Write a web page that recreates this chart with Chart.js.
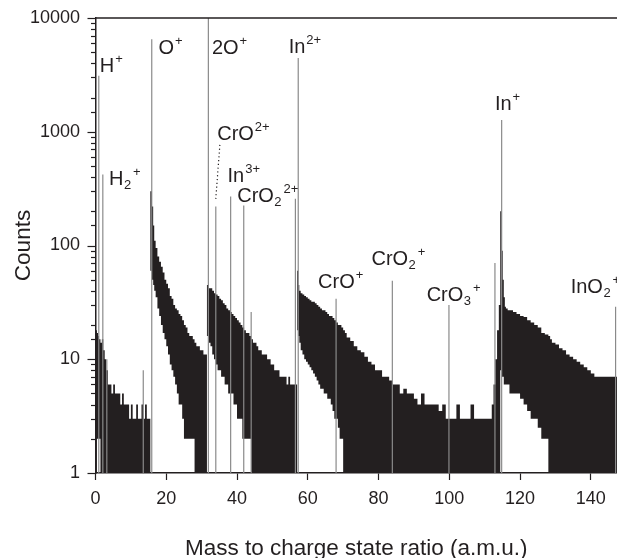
<!DOCTYPE html>
<html>
<head>
<meta charset="utf-8">
<script src="https://cdn.jsdelivr.net/npm/chart.js@4.4.0/dist/chart.umd.min.js"></script>
<style>
  html, body { margin: 0; padding: 0; background: #fff; }
  #wrap { width: 617px; height: 558px; }
</style>
</head>
<body>
<div id="wrap"><canvas id="spectrum" width="617" height="558"></canvas></div>
<script>
var massAmu = [
  0, 0.4, 0.7, 1.0, 1.4, 1.8, 2.2, 2.6, 3.0, 3.5,
  4.0, 4.5, 5.0, 5.5, 6.0, 6.5, 7.0, 7.5, 8.0, 8.5,
  9.0, 9.5, 10.0, 10.5, 11.0, 11.5, 12.0, 12.5, 13.0, 13.5,
  14.0, 14.5, 15.0, 15.5,
  15.95, 16.3, 16.6, 17.0, 17.5, 18.0, 18.5, 19.0, 19.5, 20.0,
  20.5, 21.0, 21.5, 22.0, 22.5, 23.0, 23.5, 24.0, 24.5, 25.0,
  25.5, 26.0, 26.5, 27.0, 27.5, 28.0, 28.5, 29.0, 29.5, 30.0,
  30.5, 31.0, 31.5,
  31.95, 32.5, 33.0, 33.5, 34.0, 34.5, 35.0, 35.5, 36.0, 36.5,
  37.0, 37.5, 38.0, 38.5, 39.0, 39.5, 40.0, 40.5, 41.0, 41.5,
  42.0, 42.5, 43.0, 43.5, 44.0, 44.5, 45.0, 45.5, 46.0, 46.5,
  47.0, 47.5, 48.0, 48.5, 49.0, 49.5, 50.0, 50.5, 51.0, 51.5,
  52.0, 52.5, 53.0, 53.5, 54.0, 54.5, 55.0, 55.5, 56.0, 56.5, 57.0,
  57.3, 57.6, 58.0, 58.5, 59.0, 59.5, 60.0, 60.5, 61.0, 61.5,
  62.0, 62.5, 63.0, 63.5, 64.0, 64.5, 65.0, 65.5, 66.0, 66.5,
  67.0, 67.5, 68.0, 68.5, 69.0, 69.5, 70.0, 70.5, 71.0, 72.0,
  73, 74, 75, 76, 77, 78, 79, 80, 81, 82,
  83, 84, 85, 86, 87, 88, 89, 90, 91, 92,
  93, 94, 95, 96, 97, 98, 99, 100, 101, 102,
  103, 104, 105, 106, 107, 108, 109, 110, 111, 112,
  112.5, 113.0, 113.5, 114.0, 114.4,
  114.8, 115.1, 115.4, 115.7, 116.0, 116.5, 117, 118, 119, 120,
  121, 122, 123, 124, 125, 126, 127, 128, 128.5, 129,
  130, 131, 132, 133, 134, 135, 136, 137, 138, 139,
  140, 141, 142, 143, 144, 145, 146, 147, 147.5
];
// upper edge of the dense count band
var countsHigh = [
  20, 18, 17, 16, 15, 14, 15, 12, 10, 8,
  6, 6, 5, 6, 5, 5, 5, 4, 5, 4,
  4, 4, 3, 4, 3, 3, 4, 3, 3, 4,
  3, 4, 3, 3,
  300, 220, 150, 110, 95, 80, 72, 65, 58, 50,
  46, 42, 36, 34, 30, 28, 27, 25, 24, 22,
  20, 19, 17, 16, 16, 15, 14, 13, 13, 12,
  12, 11, 11,
  45, 42, 42, 40, 38, 37, 36, 34, 33, 31,
  30, 28, 27, 26, 25, 24, 23, 22, 21, 20,
  19, 18, 17, 17, 16, 15, 14, 14, 13, 12,
  12, 11, 11, 11, 10, 10, 9, 9, 8, 8,
  8, 7, 7, 7, 7, 6, 7, 6, 6, 6, 6,
  60, 45, 40, 38, 37, 36, 35, 34, 33, 32,
  32, 31, 30, 29, 28, 27, 27, 26, 25, 24,
  24, 23, 22, 21, 20, 20, 19, 18, 17, 15.5,
  14.5, 13, 12, 11.5, 10.5, 9.5, 9, 8, 8, 7,
  7, 6.5, 6, 6, 5, 5.5, 5, 5, 4.5, 4,
  5, 4, 4, 4, 4, 3.5, 4, 3, 3, 3,
  4, 3, 3, 3, 4, 3, 3, 3, 3, 3,
  4, 6, 10, 18, 30,
  200, 90, 50, 35, 29, 28, 27, 27, 26, 25,
  24, 23.5, 22, 21, 20, 19, 17, 16.5, 16, 15,
  14, 13.5, 12.5, 12, 11, 10.5, 10, 9.5, 9, 8.5,
  8, 7.5, 7, 7, 7, 7, 7, 7, 7
];
// lower edge of the band (white below it)
var countsLow = [
  1, 1, 2, 2, 2, 1, 1, 1, 1, 1,
  1, 1, 1, 1, 1, 1, 1, 1, 1, 1,
  1, 1, 1, 1, 1, 1, 1, 1, 1, 1,
  1, 1, 1, 1,
  60, 50, 45, 40, 35, 28, 24, 20, 17, 15,
  13, 11, 9, 8, 7, 6, 5, 4, 4, 3,
  2, 2, 2, 2, 2, 2, 1, 1, 1, 1,
  1, 1, 1,
  16, 14, 13, 11, 10, 9, 8, 8, 7, 7,
  6, 6, 5, 5, 5, 4, 4, 3, 3, 3,
  2, 2, 2, 2, 2, 1, 1, 1, 1, 1,
  1, 1, 1, 1, 1, 1, 1, 1, 1, 1,
  1, 1, 1, 1, 1, 1, 1, 1, 1, 1, 1,
  18, 16, 14, 12, 11, 10, 9.5, 9, 8.5, 8,
  7.5, 7, 6.5, 6, 5.5, 5.5, 5, 5, 4.5, 4.5,
  4, 3.5, 3, 3, 2.5, 2, 2, 1, 1, 1,
  1, 1, 1, 1, 1, 1, 1, 1, 1, 1,
  1, 1, 1, 1, 1, 1, 1, 1, 1, 1,
  1, 1, 1, 1, 1, 1, 1, 1, 1, 1,
  1, 1, 1, 1, 1, 1, 1, 1, 1, 1,
  1, 1, 1, 1, 1,
  8, 7, 7, 6, 6, 6, 6, 5, 5, 5,
  4.5, 4, 3.5, 3, 3, 2.5, 2, 2, 1, 1,
  1, 1, 1, 1, 1, 1, 1, 1, 1, 1,
  1, 1, 1, 1, 1, 1, 1, 1, 1
];

// single sharp peaks (drawn as thin lines from the baseline)
var peakMass   = [0.93, 2.07, 3.2, 13.5, 15.9, 31.9, 34.0, 38.2, 41.9, 44.0, 56.5, 57.3, 68.0, 83.9, 99.9, 112.9, 114.8, 147.0];
var peakCounts = [3100, 420, 10, 8, 6500, 20000, 220, 270, 225, 26, 257, 4440, 34, 49, 30, 70, 1270, 29];

// tick labels
var massTicks = [0, 20, 40, 60, 80, 100, 120, 140];
var countTicks = [1, 10, 100, 1000, 10000];

// ion labels: text, subscript, superscript, anchor (mass, counts) of the text baseline
var ionLabels = [
  { text: "H", sub: "", sup: "+", mass: 1.2, counts: 3365 },
  { text: "H", sub: "2", sup: "+", mass: 3.8, counts: 341 },
  { text: "O", sub: "", sup: "+", mass: 17.8, counts: 4840 },
  { text: "2O", sub: "", sup: "+", mass: 32.9, counts: 4840 },
  { text: "In", sub: "", sup: "2+", mass: 54.6, counts: 4900 },
  { text: "CrO", sub: "", sup: "2+", mass: 34.4, counts: 850 },
  { text: "In", sub: "", sup: "3+", mass: 37.3, counts: 365 },
  { text: "CrO", sub: "2", sup: "2+", mass: 40.05, counts: 242 },
  { text: "CrO", sub: "", sup: "+", mass: 62.9, counts: 42 },
  { text: "CrO", sub: "2", sup: "+", mass: 78.0, counts: 67.5 },
  { text: "CrO", sub: "3", sup: "+", mass: 93.6, counts: 32.7 },
  { text: "In", sub: "", sup: "+", mass: 112.9, counts: 1560 },
  { text: "InO", sub: "2", sup: "+", mass: 134.3, counts: 38 }
];
// dotted leader from the CrO2+ label down to its peak
var leaderMass = [35.15, 34.0];
var leaderCounts = [767, 257];

var INK = "#231f20";
var FONT = '"Liberation Sans", Arial, Helvetica, sans-serif';
Chart.defaults.font.family = FONT;
Chart.defaults.color = INK;

function isDecade(v) {
  var l = Math.log10(v);
  return Math.abs(l - Math.round(l)) < 1e-9;
}

var peakPoints = [];
peakMass.forEach(function (m, i) {
  peakPoints.push({ x: m, y: 1 }, { x: m, y: peakCounts[i] }, { x: m, y: null });
});

var ionLabelPlugin = {
  id: "ionLabels",
  afterDatasetsDraw: function (chart) {
    var ctx = chart.ctx, x = chart.scales.x, y = chart.scales.y;
    ctx.save();
    ctx.fillStyle = INK;
    ctx.textAlign = "left";
    ctx.textBaseline = "alphabetic";
    ionLabels.forEach(function (l) {
      var px = x.getPixelForValue(l.mass);
      var py = y.getPixelForValue(l.counts);
      ctx.font = "20px " + FONT;
      ctx.fillText(l.text, px, py);
      px += ctx.measureText(l.text).width;
      ctx.font = "13px " + FONT;
      if (l.sub) {
        ctx.fillText(l.sub, px + 0.5, py + 4);
        px += ctx.measureText(l.sub).width + 1.5;
      }
      if (l.sup) ctx.fillText(l.sup, px + 1, py - 9);
    });
    ctx.restore();
  }
};

var frameTicksPlugin = {
  id: "frameTicks",
  afterDraw: function (chart) {
    var ctx = chart.ctx, area = chart.chartArea, y = chart.scales.y;
    ctx.save();
    ctx.strokeStyle = INK;
    ctx.lineWidth = 1.2;
    y.ticks.forEach(function (t) {
      var py = Math.round(y.getPixelForValue(t.value)) + 0.5;
      var len = isDecade(t.value) ? 8 : 4.5;
      ctx.beginPath();
      ctx.moveTo(area.left - len, py);
      ctx.lineTo(area.left, py);
      ctx.stroke();
    });
    ctx.lineWidth = 1.5;
    ctx.beginPath();
    ctx.moveTo(area.left, area.top);
    ctx.lineTo(area.right, area.top);
    ctx.stroke();
    ctx.restore();
  }
};

new Chart("spectrum", {
  type: "line",
  data: {
    datasets: [
      {
        label: "band",
        data: massAmu.map(function (m, i) { return { x: m, y: countsHigh[i] }; }),
        stepped: "after",
        borderWidth: 0,
        pointRadius: 0,
        backgroundColor: INK,
        fill: "+1",
        order: 3
      },
      {
        label: "band base",
        data: massAmu.map(function (m, i) { return { x: m, y: countsLow[i] }; }),
        stepped: "after",
        borderWidth: 0,
        pointRadius: 0,
        fill: false,
        order: 2
      },
      {
        label: "peaks",
        data: peakPoints,
        borderColor: "#8a8a8a",
        borderWidth: 1.2,
        pointRadius: 0,
        spanGaps: false,
        fill: false,
        order: 1
      },
      {
        label: "leader",
        data: leaderMass.map(function (m, i) { return { x: m, y: leaderCounts[i] }; }),
        borderColor: INK,
        borderWidth: 1.2,
        borderDash: [1.2, 2.6],
        pointRadius: 0,
        fill: false,
        order: 0
      }
    ]
  },
  options: {
    responsive: false,
    animation: false,
    events: [],
    layout: { padding: { top: 18, right: 0, bottom: 0, left: 0 } },
    plugins: { legend: { display: false }, tooltip: { enabled: false } },
    scales: {
      x: {
        type: "linear",
        min: 0,
        max: 147.4,
        afterFit: function (s) { s.height = 85; s.paddingLeft = 0; s.paddingRight = 0; },
        afterBuildTicks: function (s) { s.ticks = massTicks.map(function (v) { return { value: v }; }); },
        border: { display: true, color: INK, width: 1.5 },
        grid: { display: true, drawOnChartArea: false, drawTicks: true, tickLength: 7, color: INK, tickWidth: 1.2 },
        ticks: { font: { size: 18 }, color: INK, padding: 8, maxRotation: 0, includeBounds: false },
        title: {
          display: true,
          text: "Mass to charge state ratio (a.m.u.)",
          font: { size: 22.5, lineHeight: 0.8 },
          color: INK,
          padding: { top: 0, bottom: 0 }
        }
      },
      y: {
        type: "logarithmic",
        min: 1,
        max: 10000,
        afterFit: function (s) { s.width = 95.5; s.paddingTop = 0; s.paddingBottom = 0; },
        border: { display: true, color: INK, width: 1.5 },
        grid: { display: true, drawOnChartArea: false, drawTicks: false },
        ticks: {
          font: { size: 18 },
          color: INK,
          padding: 15.5,
          autoSkip: false,
          callback: function (v) { return countTicks.indexOf(v) >= 0 ? String(v) : ""; }
        },
        title: {
          display: true,
          text: "Counts",
          font: { size: 22.5 },
          color: INK,
          padding: { top: 10, bottom: 0 }
        }
      }
    }
  },
  plugins: [ionLabelPlugin, frameTicksPlugin]
});
</script>
</body>
</html>
